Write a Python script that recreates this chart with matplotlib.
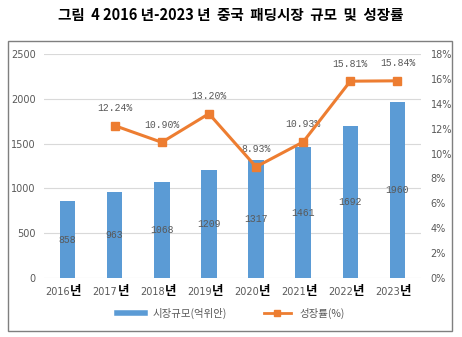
import matplotlib
matplotlib.use("Agg")
import matplotlib.pyplot as plt
from matplotlib.lines import Line2D
from matplotlib.patches import Rectangle
from matplotlib.ticker import FuncFormatter, MultipleLocator

plt.rcParams['font.family'] = ['Noto Sans CJK KR', 'DejaVu Sans']

years = ['2016', '2017', '2018', '2019', '2020', '2021', '2022', '2023']
market_size = [858, 963, 1068, 1209, 1317, 1461, 1692, 1960]
growth_years = ['2017', '2018', '2019', '2020', '2021', '2022', '2023']
growth_rate = [12.24, 10.90, 13.20, 8.93, 10.93, 15.81, 15.84]

title = '그림  4 2016 년-2023 년  중국  패딩시장  규모  및  성장률'
bar_label = '시장규모(억위안)'
line_label = '성장률(%)'

BLUE = '#5B9BD5'
ORANGE = '#ED7D31'
GRAY = '#595959'

fig = plt.figure(figsize=(4.62, 3.37), dpi=100)
fig.patch.set_facecolor('white')

# outer chart frame
fig.patches.append(Rectangle((0.017, 0.018), 0.961, 0.861, transform=fig.transFigure,
                             fill=False, edgecolor='#7F7F7F', linewidth=1.0))

fig.text(0.5, 0.955, title, ha='center', va='center', fontsize=10.5, fontweight='bold')

ax = fig.add_axes([0.0952, 0.175, 0.816, 0.665])
ax2 = ax.twinx()

x = list(range(len(years)))
ax.bar(x, market_size, width=0.33, color=BLUE, zorder=2)
ax.set_xlim(-0.5, len(years) - 0.5)
ax.set_ylim(0, 2500)
ax.yaxis.set_major_locator(MultipleLocator(500))
ax.grid(axis='y', color='#D9D9D9', linewidth=0.8, zorder=0)
ax.set_axisbelow(True)

for xi, v in zip(x, market_size):
    ax.text(xi, v / 2, str(v), ha='center', va='center', fontsize=7,
            color=GRAY, family='Liberation Mono', zorder=3)

gx = [years.index(y) for y in growth_years]
ax2.plot(gx, growth_rate, color=ORANGE, linewidth=2.2, marker='s', markersize=6,
         zorder=4)
ax2.set_ylim(0, 18)
ax2.yaxis.set_major_locator(MultipleLocator(2))
ax2.yaxis.set_major_formatter(FuncFormatter(lambda v, p: f'{v:.0f}%'))
for xi, v in zip(gx, growth_rate):
    ax2.annotate(f'{v:.2f}%', (xi, v), xytext=(0, 9), textcoords='offset points',
                 ha='center', va='bottom', fontsize=7, color=GRAY,
                 family='Liberation Mono')

for a in (ax, ax2):
    for s in a.spines.values():
        s.set_visible(False)
    a.tick_params(length=0, labelsize=7, labelcolor=GRAY)
    for lab in a.get_yticklabels():
        lab.set_family('DejaVu Sans')
ax.tick_params(axis='y', pad=6)
ax2.tick_params(axis='y', pad=7)

# x tick labels: gray year with larger bold black 년
ax.set_xticks(x)
ax.set_xticklabels([])
for xi, yr in zip(x, years):
    ax.annotate(yr, (xi, 0), xycoords=('data', 'axes fraction'), xytext=(2, -10),
                textcoords='offset points', ha='right', va='center', fontsize=7,
                color=GRAY, family='DejaVu Sans')
    ax.annotate('년', (xi, 0), xycoords=('data', 'axes fraction'), xytext=(2, -10),
                textcoords='offset points', ha='left', va='center', fontsize=9,
                fontweight='bold', color='black')

handles = [Line2D([0], [0], color=BLUE, linewidth=4),
           Line2D([0], [0], color=ORANGE, linewidth=2, marker='s', markersize=4)]
fig.legend(handles, [bar_label, line_label], loc='center', bbox_to_anchor=(0.5, 0.07),
           ncol=2, frameon=False, fontsize=7.5, labelcolor=GRAY, handlelength=2.6,
           columnspacing=3.5)

fig.savefig('out.png', dpi=100)
